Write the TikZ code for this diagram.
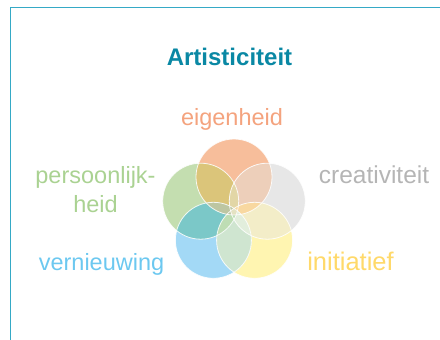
\documentclass[tikz,border=0pt]{standalone}
\usepackage{fontspec}
\setmainfont{Liberation Sans}
\definecolor{frame}{HTML}{35A9C6}
\definecolor{titlec}{HTML}{0A88A4}
\definecolor{cOr}{HTML}{F7BE9B}
\definecolor{cGy}{HTML}{E7E7E7}
\definecolor{cYe}{HTML}{FFF5B1}
\definecolor{cBl}{HTML}{A3D9F6}
\definecolor{cGn}{HTML}{C4DEB0}
\definecolor{pOGn}{HTML}{DBC57A}
\definecolor{pOGy}{HTML}{EDCFBA}
\definecolor{pGyY}{HTML}{F3EDC8}
\definecolor{pYB}{HTML}{CFE5D0}
\definecolor{pBGn}{HTML}{7BC8C8}
\definecolor{tGnOGy}{HTML}{E2D6A6}
\definecolor{tOGyY}{HTML}{F8D8A0}
\definecolor{tGyYB}{HTML}{E2EEDC}
\definecolor{tYBGn}{HTML}{BEDDB4}
\definecolor{tBGnO}{HTML}{BDC6A2}
\definecolor{tAll}{HTML}{E4E2C2}
\definecolor{lOr}{HTML}{F4A37E}
\definecolor{lGy}{HTML}{B5B5B5}
\definecolor{lGn}{HTML}{AAD292}
\definecolor{lBl}{HTML}{6CC8F0}
\definecolor{lYe}{HTML}{FFD96A}
\tikzset{
  lbl/.style={anchor=base, inner sep=0pt, font=\fontsize{23.5}{29}\selectfont},
  ring/.style={draw=white, draw opacity=0.85, line width=0.8pt},
}
\begin{document}
\begin{tikzpicture}[x=1pt,y=-1pt]
\useasboundingbox (0,0) rectangle (440,340);
\draw[frame, line width=1.8pt] (10.5,340) -- (10.5,7.5) -- (440,7.5);
% circle centres
\coordinate (O) at (234,177);
\coordinate (G) at (267.3,201.2);
\coordinate (Y) at (254.6,240.3);
\coordinate (B) at (213.4,240.3);
\coordinate (N) at (200.7,201.2);
\def\r{38}
% base
\fill[cOr] (O) circle (\r);
\fill[cGy] (G) circle (\r);
\fill[cYe] (Y) circle (\r);
\fill[cBl] (B) circle (\r);
\fill[cGn] (N) circle (\r);
% pairs
\begin{scope}\clip (O) circle (\r); \fill[pOGn] (N) circle (\r); \end{scope}
\begin{scope}\clip (O) circle (\r); \fill[pOGy] (G) circle (\r); \end{scope}
\begin{scope}\clip (G) circle (\r); \fill[pGyY] (Y) circle (\r); \end{scope}
\begin{scope}\clip (Y) circle (\r); \fill[pYB] (B) circle (\r); \end{scope}
\begin{scope}\clip (B) circle (\r); \fill[pBGn] (N) circle (\r); \end{scope}
% triples
\begin{scope}\clip (N) circle (\r); \clip (O) circle (\r); \fill[tGnOGy] (G) circle (\r); \end{scope}
\begin{scope}\clip (O) circle (\r); \clip (G) circle (\r); \fill[tOGyY] (Y) circle (\r); \end{scope}
\begin{scope}\clip (G) circle (\r); \clip (Y) circle (\r); \fill[tGyYB] (B) circle (\r); \end{scope}
\begin{scope}\clip (Y) circle (\r); \clip (B) circle (\r); \fill[tYBGn] (N) circle (\r); \end{scope}
\begin{scope}\clip (B) circle (\r); \clip (N) circle (\r); \fill[tBGnO] (O) circle (\r); \end{scope}
% all five
\begin{scope}\clip (O) circle (\r); \clip (G) circle (\r); \clip (Y) circle (\r); \clip (B) circle (\r); \fill[tAll] (N) circle (\r); \end{scope}
% white rings
\foreach \c in {O,G,Y,B,N} \draw[ring] (\c) circle (\r);
% texts
\node[anchor=base, inner sep=0pt, text=titlec, font=\bfseries\fontsize{24}{28}\selectfont] (title) at (229.5,65.5) {Artisticiteit};
\node[lbl, text=lOr] (eig) at (232,125) {eigenheid};
\node[lbl, text=lGy, font=\fontsize{24.5}{29}\selectfont] (cre) at (374,183) {creativiteit};
\node[lbl, text=lGn] (per1) at (95.5,183) {persoonlijk-};
\node[lbl, text=lGn] (per2) at (95.5,212) {heid};
\node[lbl, text=lBl] (ver) at (101.5,270) {vernieuwing};
\node[lbl, text=lYe, font=\fontsize{25.5}{29}\selectfont] (ini) at (350.5,270) {initiatief};
\end{tikzpicture}
\end{document}
